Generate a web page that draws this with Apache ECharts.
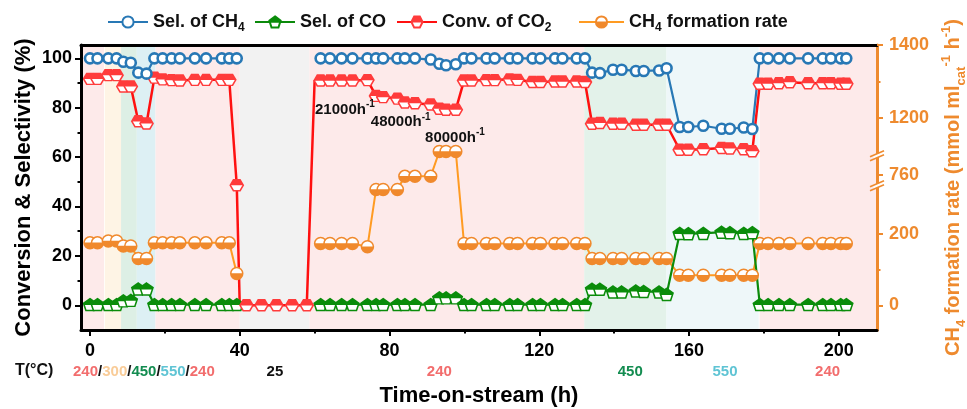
<!DOCTYPE html>
<html>
<head>
<meta charset="utf-8">
<script src="https://cdn.jsdelivr.net/npm/echarts@6.0.0/dist/echarts.min.js"></script>
<style>
html,body{margin:0;padding:0;background:#fff;}
#chart{width:967px;height:409px;}
</style>
</head>
<body>
<div id="chart"></div>
<script>
// ---------------- DATA ----------------
const hoursA = [0, 2, 4.9, 7.1, 8.9, 10.9, 12.9, 15.1, 17.2, 19.4, 21.8, 24, 28, 31, 35.2, 37.2, 39.2];
const hoursGap = [40, 41.8, 45.8, 49.8, 54.0, 57.9, 60.0];
const hoursB = [61.6, 64.1, 67.2, 70.1, 74.1, 76.4, 78.3, 82.1, 84.1, 86.8,
  91.0, 93.3, 95.1, 97.7,
  99.9, 101.9, 105.9, 108.1, 112.1, 114.2, 118.2, 120.3, 124.2, 126.2, 130.0, 132.2,
  134.1, 136.2, 139.7, 142.0, 145.8, 147.9, 152.0, 154.0,
  157.5, 159.8, 163.8, 168.7, 170.9, 174.6, 176.9,
  178.9, 181.1, 184.0, 186.9, 191.8, 195.7, 197.9, 200.5, 202.0];

const selCH4A = [100, 100, 100, 100, 98.6, 98.2, 94.2, 93.8, 100, 100, 100, 100, 100, 100, 100, 100, 100];
const selCH4B = [100, 100, 100, 100, 100, 100, 100, 100, 100, 100,
  99.5, 97.8, 97.2, 97.6,
  100, 100, 100, 100, 100, 100, 100, 100, 100, 100, 100, 100,
  94.2, 94.0, 95.4, 95.4, 94.9, 94.9, 95.1, 96.0,
  72.2, 72.2, 72.7, 71.5, 71.5, 72.0, 71.4,
  100, 100, 100, 100, 100, 100, 100, 100, 100];

const selCOA = [0.3, 0.3, 0.3, 0.3, 1.8, 2.0, 6.6, 6.6, 0.3, 0.3, 0.3, 0.3, 0.3, 0.3, 0.3, 0.3, 0.3];
const selCOB = [0.3, 0.3, 0.3, 0.3, 0.3, 0.3, 0.3, 0.3, 0.3, 0.3,
  0.3, 3.0, 3.0, 3.0,
  0.3, 0.3, 0.3, 0.3, 0.3, 0.3, 0.3, 0.3, 0.3, 0.3, 0.3, 0.3,
  6.5, 6.5, 5.4, 5.4, 5.8, 5.6, 5.4, 4.4,
  29.1, 29.0, 29.1, 29.6, 29.4, 29.1, 29.4,
  0.3, 0.3, 0.3, 0.3, 0.3, 0.3, 0.3, 0.3, 0.3];

const convCO2A = [91.7, 91.7, 93.2, 93.2, 88.6, 88.6, 74.5, 73.6, 92.2, 91.5, 91.2, 91.0, 91.3, 91.3, 91.3, 91.3, 48.6];
const convCO2Gap = [0, 0, 0, 0, 0, 0, 91.0];
const convCO2B = [91.0, 91.0, 91.0, 91.0, 91.2, 84.8, 84.3, 83.7, 82.1, 81.8,
  81.3, 79.6, 79.2, 79.2,
  91.0, 91.0, 91.2, 91.2, 91.5, 91.3, 90.4, 90.4, 90.6, 90.6, 90.6, 90.4,
  73.5, 73.8, 73.5, 73.5, 73.1, 73.1, 73.1, 73.1,
  63.0, 63.0, 63.2, 63.7, 63.5, 63.2, 62.4,
  89.7, 89.7, 89.9, 90.3, 89.9, 89.9, 89.9, 89.7, 89.7];

// CH4 formation rate (mmol ml_cat^-1 h^-1)
const rateA = [175, 175, 180, 180, 166, 166, 131, 131, 175, 175, 175, 175, 175, 175, 175, 175, 89];
const rateB = [173, 173, 173, 173, 164, 620, 620, 620, 744, 744,
  744, 940, 940, 940,
  173, 173, 173, 173, 173, 173, 173, 173, 173, 173, 173, 173,
  131, 131, 131, 131, 131, 131, 131, 131,
  84, 84, 84, 84, 84, 84, 84,
  173, 173, 173, 173, 173, 173, 173, 173, 173];

const xTicks = [0, 40, 80, 120, 160, 200];
const xMinorTicks = [20, 60, 100, 140, 180];
const yTicks = [0, 20, 40, 60, 80, 100];
const yMinorTicks = [10, 30, 50, 70, 90];
const rateTicks = [0, 200, 760, 1200, 1400];
const rateMinorTicks = [100, 1300];

// temperature periods (h) and labels
const periodStarts = [-2.4, 3.95, 8.3, 12.5, 17.5, 40, 58.6, 132, 154, 178.85];
const periodEnds   = [3.75, 8.3, 12.5, 17.5, 40, 58.6, 132, 154, 178.6, 210.2];
const periodTemps  = [240, 300, 450, 550, 240, 25, 240, 450, 550, 240];
const tempLabels = ['240/300/450/550/240', '25', '240', '450', '550', '240'];
const tempLabelHours = [14.4, 49.4, 93.3, 144.3, 169.6, 197.0];
const ghsvLabels = ['21000', '48000', '80000'];

// ---------------- LAYOUT / STYLE ----------------
// broken right axis: where each rate tick sits on the left (%) scale
const rateTickPos = [0, 28.9, 52.9, 75.8, 105.4];
const rateBreakPos = [48.4, 60.6];
const ghsvAnchor = [[60.1, 79.2], [75.0, 74.3], [89.5, 67.9]];
const X_MIN = -2.4, X_MAX = 210.2, Y_MIN = -10, Y_MAX = 105.4;

const BLUE = '#2878B5', GREEN = '#0A8C0A', GREEN_LINE = '#0B8A0B', RED = '#FF3B3B', RED_LINE = '#FF1010',
      ORANGE = '#F0892C', ORANGE_LINE = '#FF9B22', AXIS_ORANGE = '#EE8A2E';
const bandColors = {240: '#FDEAEA', 300: '#FEF4E5', 450: '#DDEFE5', 550: '#DDF0F4', 25: '#F2F2F2'};
const bandColors2 = {450: '#E3F2EA', 550: '#EEF7F9'};
const tempColors = {'240': '#F26D6D', '300': '#F9CC98', '450': '#138C50', '550': '#5FC4D4', '25': '#111'};
const FONT = '"Liberation Sans", Arial, Helvetica, sans-serif';

function rateToAxis(v) {
  if (v == null) return null;
  for (let i = 0; i < rateTicks.length - 1; i++) {
    if (v <= rateTicks[i + 1] || i === rateTicks.length - 2) {
      const t = (v - rateTicks[i]) / (rateTicks[i + 1] - rateTicks[i]);
      return rateTickPos[i] + t * (rateTickPos[i + 1] - rateTickPos[i]);
    }
  }
}

// half-filled marker paths (outline + hatch strokes filling one half)
function hatchPolygon(pts, fillTop, step) {
  const ys = pts.map(p => p[1]);
  const ymin = Math.min(...ys), ymax = Math.max(...ys), mid = (ymin + ymax) / 2;
  let d = 'M' + pts.map(p => p[0].toFixed(2) + ' ' + p[1].toFixed(2)).join(' L') + ' Z';
  const a = fillTop ? ymin : mid, b = fillTop ? mid : ymax;
  for (let y = a + step / 2; y < b; y += step) {
    const xs = [];
    for (let i = 0; i < pts.length; i++) {
      const p = pts[i], q = pts[(i + 1) % pts.length];
      if ((p[1] - y) * (q[1] - y) < 0) xs.push(p[0] + (y - p[1]) * (q[0] - p[0]) / (q[1] - p[1]));
    }
    xs.sort((m, n) => m - n);
    for (let k = 0; k + 1 < xs.length; k += 2)
      d += ` M${xs[k].toFixed(2)} ${y.toFixed(2)} L${xs[k + 1].toFixed(2)} ${y.toFixed(2)}`;
  }
  return 'path://' + d;
}
function hatchCircle(fillBottom, step) {
  let d = 'M0 10 A10 10 0 1 1 20 10 A10 10 0 1 1 0 10 Z';
  const a = fillBottom ? 10 : 0, b = fillBottom ? 20 : 10;
  for (let y = a + step / 2; y < b; y += step) {
    const h = Math.sqrt(Math.max(0, 100 - (y - 10) * (y - 10)));
    d += ` M${(10 - h).toFixed(2)} ${y.toFixed(2)} L${(10 + h).toFixed(2)} ${y.toFixed(2)}`;
  }
  return 'path://' + d;
}
const SYM_HEX = hatchPolygon([[0, 10], [5, 1.34], [15, 1.34], [20, 10], [15, 18.66], [5, 18.66]], true, 1.4);
const SYM_PENT = hatchPolygon([[10, 0], [20, 7.3], [16.2, 19], [3.8, 19], [0, 7.3]], true, 1.4);
const SYM_CIRC = hatchCircle(true, 1.4);

function zip(hs, vs) { return hs.map((h, i) => [h, vs[i]]); }
function withGap(a, b, mapFn) {
  const f = mapFn || (v => v);
  return zip(hoursA, a.map(f)).concat([[50, null]], zip(hoursB, b.map(f)));
}

const redData = zip(hoursA, convCO2A)
  .concat(hoursGap.map((h, i) => {
    const item = {value: [h, convCO2Gap[i]]};
    if (i === 0 || i === hoursGap.length - 1) item.symbol = 'none';
    return item;
  }))
  .concat(zip(hoursB, convCO2B));

const markBands = periodStarts.map((s, i) => {
  const t = periodTemps[i];
  const col = (s > 100 && bandColors2[t]) ? bandColors2[t] : bandColors[t];
  return [{xAxis: s, itemStyle: {color: col}}, {xAxis: periodEnds[i]}];
});

const sub = {fontSize: 12, lineHeight: 12, verticalAlign: 'bottom', fontWeight: 'bold', fontFamily: FONT, color: '#111'};
const main = {fontSize: 18, lineHeight: 24, fontWeight: 'bold', fontFamily: FONT, color: '#111'};

function legendAt(name, left, fmt, w) {
  return {
    data: [name], left: left, top: 8, itemWidth: w || 40, itemHeight: 14, selectedMode: false,
    formatter: () => fmt,
    textStyle: {rich: {m: main, s: sub}}
  };
}

const AX_Z = 10;
const option = {
  animation: false,
  textStyle: {fontFamily: FONT},
  legend: [
    legendAt('Sel. of CH4', 102, '{m|Sel. of CH}{s|4}'),
    legendAt('Sel. of CO', 249, '{m|Sel. of CO}'),
    legendAt('Conv. of CO2', 391, '{m|Conv. of CO}{s|2}'),
    legendAt('CH4 formation rate', 573, '{m|CH}{s|4}{m| formation rate}', 45)
  ],
  grid: {left: 81, right: 90, top: 45, bottom: 79, containLabel: false, outerBoundsMode: 'none'},
  xAxis: [
    {type: 'value', min: X_MIN, max: X_MAX, position: 'bottom', z: AX_Z,
     axisLine: {onZero: false, lineStyle: {color: '#000', width: 3}},
     axisTick: {customValues: xTicks, length: 6, lineStyle: {color: '#000', width: 2}},
     axisLabel: {customValues: xTicks, margin: 12, fontSize: 18, fontWeight: 'bold', color: '#000'},
     splitLine: {show: false},
     name: 'Time-on-stream (h)', nameLocation: 'middle', nameGap: 55,
     nameTextStyle: {fontSize: 22, fontWeight: 'bold', color: '#000'}},
    {type: 'value', min: X_MIN, max: X_MAX, position: 'bottom', z: AX_Z,
     axisLine: {show: false, onZero: false},
     axisTick: {customValues: xMinorTicks, length: 3.5, lineStyle: {color: '#000', width: 2}},
     axisLabel: {show: false}, splitLine: {show: false}},
    {type: 'value', min: X_MIN, max: X_MAX, position: 'top', z: AX_Z,
     axisLine: {onZero: false, lineStyle: {color: '#000', width: 3}},
     axisTick: {show: false}, axisLabel: {show: false}, splitLine: {show: false}}
  ],
  yAxis: [
    {type: 'value', min: Y_MIN, max: Y_MAX, position: 'left', z: AX_Z,
     axisLine: {show: true, onZero: false, lineStyle: {color: '#000', width: 3}},
     axisTick: {show: true, customValues: yTicks, length: 6, lineStyle: {color: '#000', width: 2}},
     axisLabel: {customValues: yTicks, margin: 9, fontSize: 18, fontWeight: 'bold', color: '#000'},
     splitLine: {show: false},
     name: 'Conversion & Selectivity (%)', nameLocation: 'middle', nameGap: 46, nameRotate: 90,
     nameMoveOverlap: false,
     nameTextStyle: {fontSize: 22, fontWeight: 'bold', color: '#000'}},
    {type: 'value', min: Y_MIN, max: Y_MAX, position: 'right', z: AX_Z,
     axisLine: {show: true, onZero: false, lineStyle: {color: AXIS_ORANGE, width: 3}},
     axisTick: {show: true, customValues: rateTickPos, length: 6, lineStyle: {color: AXIS_ORANGE, width: 2}},
     axisLabel: {customValues: rateTickPos, margin: 12, fontSize: 18, fontWeight: 'bold', color: AXIS_ORANGE,
       formatter: v => { const i = rateTickPos.findIndex(p => Math.abs(p - v) < 1e-6); return i >= 0 ? String(rateTicks[i]) : ''; }},
     splitLine: {show: false},
     name: '{a|CH}{s|4}{a| formation rate (mmol ml}{s|cat}{p|-1}{a| h}{p|-1}{a|)}',
     nameLocation: 'middle', nameGap: 60, nameRotate: 90,
     nameTextStyle: {color: AXIS_ORANGE, rich: {
       a: {fontSize: 20, lineHeight: 28, fontWeight: 'bold', color: AXIS_ORANGE, fontFamily: FONT},
       s: {fontSize: 13, lineHeight: 13, verticalAlign: 'bottom', fontWeight: 'bold', color: AXIS_ORANGE, fontFamily: FONT},
       p: {fontSize: 13, lineHeight: 13, verticalAlign: 'top', fontWeight: 'bold', color: AXIS_ORANGE, fontFamily: FONT}
     }}},
    {type: 'value', min: Y_MIN, max: Y_MAX, position: 'left', z: AX_Z,
     axisLine: {show: false, onZero: false},
     axisTick: {show: true, customValues: yMinorTicks, length: 3.5, lineStyle: {color: '#000', width: 2}},
     axisLabel: {show: false}, splitLine: {show: false}},
    {type: 'value', min: Y_MIN, max: Y_MAX, position: 'right', z: AX_Z,
     axisLine: {show: false, onZero: false},
     axisTick: {show: true, customValues: rateMinorTicks.map(rateToAxis), length: 3.5, lineStyle: {color: AXIS_ORANGE, width: 2}},
     axisLabel: {show: false}, splitLine: {show: false}}
  ],
  series: [
    {name: 'CH4 formation rate', type: 'line', yAxisIndex: 1,
     data: withGap(rateA, rateB, rateToAxis),
     symbol: SYM_CIRC, symbolSize: 12,
     itemStyle: {color: '#fff', borderColor: ORANGE, borderWidth: 1.5},
     lineStyle: {color: ORANGE_LINE, width: 2},
     emphasis: {disabled: true},
     markArea: {silent: true, data: markBands}},
    {name: 'Sel. of CO', type: 'line', data: withGap(selCOA, selCOB),
     symbol: SYM_PENT, symbolSize: [13, 12],
     itemStyle: {color: '#fff', borderColor: GREEN, borderWidth: 1.5},
     lineStyle: {color: GREEN_LINE, width: 2.2},
     emphasis: {disabled: true}},
    {name: 'Conv. of CO2', type: 'line', data: redData,
     symbol: SYM_HEX, symbolSize: [13, 11],
     itemStyle: {color: '#fff', borderColor: RED, borderWidth: 1.5},
     lineStyle: {color: RED_LINE, width: 2.5},
     emphasis: {disabled: true}},
    {name: 'Sel. of CH4', type: 'line', data: withGap(selCH4A, selCH4B),
     symbol: 'circle', symbolSize: 10,
     itemStyle: {color: '#fff', borderColor: BLUE, borderWidth: 2.6},
     lineStyle: {color: BLUE, width: 2.2},
     emphasis: {disabled: true}}
  ]
};

const chart = echarts.init(document.getElementById('chart'), null, {renderer: 'canvas'});
chart.setOption(option);

// ---------- annotations placed through the axes ----------
const graphics = [];
const tRich = {sl: {fontSize: 15, fontWeight: 'bold', fill: '#111', fontFamily: FONT}};
Object.keys(tempColors).forEach(k => { tRich['t' + k] = {fontSize: 15, fontWeight: 'bold', fill: tempColors[k], fontFamily: FONT}; });
graphics.push({type: 'text', left: 15, top: 363, z: 100,
  style: {text: 'T(°C)', font: 'bold 16px ' + FONT, fill: '#111'}});
tempLabels.forEach((lab, i) => {
  const txt = lab.split('/').map(v => `{t${v}|${v}}`).join('{sl|/}');
  const x = chart.convertToPixel({xAxisIndex: 0}, tempLabelHours[i]);
  graphics.push({type: 'text', x: x, y: 372, z: 100,
    style: {text: txt, rich: tRich, align: 'center', verticalAlign: 'middle'}});
});
ghsvLabels.forEach((g, i) => {
  const p = chart.convertToPixel({gridIndex: 0}, ghsvAnchor[i]);
  graphics.push({type: 'text', x: p[0], y: p[1], z: 100,
    style: {text: `{a|${g}h}{b|-1}`, align: 'left', verticalAlign: 'middle',
      rich: {a: {fontSize: 15, lineHeight: 20, fontWeight: 'bold', fill: '#111', fontFamily: FONT},
             b: {fontSize: 10, lineHeight: 10, verticalAlign: 'top', fontWeight: 'bold', fill: '#111', fontFamily: FONT}}}});
});
const gx = chart.convertToPixel({xAxisIndex: 0}, X_MAX);
rateBreakPos.forEach(b => {
  const y = chart.convertToPixel({yAxisIndex: 1}, b);
  const L = (t, off) => [gx - 7 + 14 * t, y + off + 3 - 6 * t];
  graphics.push({type: 'polygon', z: 101, shape: {points: [L(0.25, 2), L(0.75, 2), L(0.75, -2), L(0.25, -2)]},
    style: {fill: '#fff'}});
  [-2, 2].forEach(off => {
    const a = L(0, off), c = L(1, off);
    graphics.push({type: 'line', z: 102, shape: {x1: a[0], y1: a[1], x2: c[0], y2: c[1]},
      style: {stroke: AXIS_ORANGE, lineWidth: 1.6}});
  });
});
chart.setOption({graphic: graphics});
</script>
</body>
</html>
